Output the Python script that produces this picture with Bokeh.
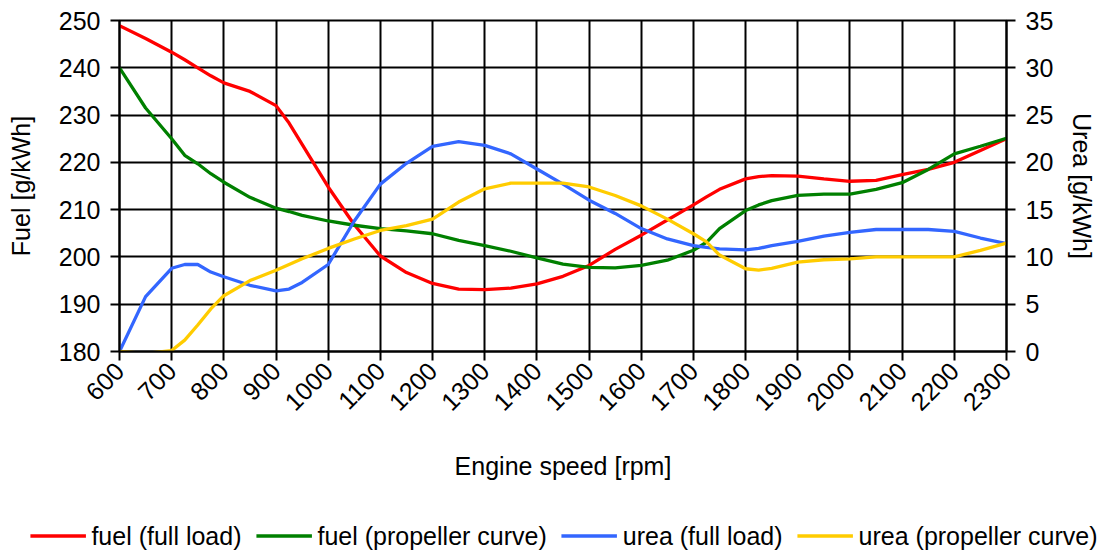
import math
from bokeh.plotting import figure
from bokeh.models import LinearAxis, Range1d, FixedTicker, Legend, LegendItem, ColumnDataSource
from bokeh.embed import file_html
from bokeh.resources import INLINE

rpm = [600, 650, 700, 725, 750, 775, 800, 850, 900, 925, 950, 1000, 1050, 1100,
       1150, 1200, 1250, 1300, 1350, 1400, 1450, 1500, 1550, 1600, 1650, 1700,
       1725, 1750, 1800, 1825, 1850, 1900, 1950, 2000, 2050, 2100, 2150, 2200,
       2250, 2300]

fuel_full_load = [248.9, 246.2, 243.3, 241.7, 240.0, 238.3, 236.8, 235.0, 232.0, 228.3,
                  223.8, 214.8, 206.8, 200.2, 196.7, 194.4, 193.2, 193.1, 193.4, 194.3,
                  195.9, 198.2, 201.6, 204.6, 207.8, 211.0, 212.7, 214.3, 216.5, 217.0,
                  217.2, 217.1, 216.5, 216.0, 216.2, 217.4, 218.5, 220.0, 222.5, 225.0]

fuel_propeller = [240.0, 231.5, 225.0, 221.5, 219.7, 217.6, 215.8, 212.6, 210.3, 209.6,
                  208.8, 207.6, 206.7, 206.0, 205.5, 204.9, 203.5, 202.4, 201.2, 199.8,
                  198.5, 197.8, 197.7, 198.2, 199.3, 201.4, 203.1, 206.0, 209.8, 211.0,
                  211.9, 213.0, 213.3, 213.3, 214.3, 215.7, 218.5, 221.8, 223.4, 225.1]

urea_full_load = [0.0, 5.8, 8.8, 9.2, 9.2, 8.4, 7.9, 7.0, 6.4, 6.6,
                  7.3, 9.2, 13.8, 17.7, 19.9, 21.7, 22.2, 21.8, 20.9, 19.3,
                  17.7, 16.0, 14.6, 13.0, 11.9, 11.2, 11.0, 10.85, 10.75, 10.9,
                  11.2, 11.65, 12.2, 12.6, 12.9, 12.9, 12.9, 12.7, 12.0, 11.4]

urea_propeller = [0.0, -0.2, 0.1, 1.2, 2.8, 4.5, 5.9, 7.5, 8.6, 9.2,
                  9.8, 10.9, 11.9, 12.8, 13.3, 14.0, 15.8, 17.2, 17.8, 17.8,
                  17.8, 17.4, 16.5, 15.4, 14.0, 12.45, 11.6, 10.2, 8.75, 8.6,
                  8.8, 9.45, 9.7, 9.8, 10.0, 10.0, 10.0, 10.0, 10.7, 11.45]

x_ticks = list(range(600, 2301, 100))
fuel_ticks = list(range(180, 251, 10))
urea_ticks = list(range(0, 36, 5))

series_labels = ["fuel (full load)", "fuel (propeller curve)",
                 "urea (full load)", "urea (propeller curve)"]
colors = ["#FF0000", "#008000", "#3366FF", "#FFCC00"]

FONT = "Liberation Sans"
FS = "25px"
LW = 3.3

src = ColumnDataSource(dict(rpm=rpm, ffl=fuel_full_load, fpc=fuel_propeller,
                            ufl=urea_full_load, upc=urea_propeller))

p = figure(width=1099, height=510, output_backend="svg", toolbar_location=None,
           x_range=Range1d(600, 2300), y_range=Range1d(180, 250),
           min_border_left=119, min_border_right=88, min_border_top=20,
           min_border_bottom=159)
p.extra_y_ranges = {"urea": Range1d(0, 35)}

p.background_fill_color = "white"
p.border_fill_color = "white"
p.outline_line_color = "black"
p.outline_line_width = 2

p.xgrid.ticker = FixedTicker(ticks=x_ticks)
p.ygrid.ticker = FixedTicker(ticks=fuel_ticks)
for g in (p.xgrid, p.ygrid):
    g.grid_line_color = "black"
    g.grid_line_width = 2

r1 = p.line("rpm", "ffl", source=src, line_color=colors[0], line_width=LW)
r2 = p.line("rpm", "fpc", source=src, line_color=colors[1], line_width=LW)
r3 = p.line("rpm", "ufl", source=src, line_color=colors[2], line_width=LW, y_range_name="urea")
r4 = p.line("rpm", "upc", source=src, line_color=colors[3], line_width=LW, y_range_name="urea")

raxis = LinearAxis(y_range_name="urea", ticker=FixedTicker(ticks=urea_ticks),
                   axis_label="Urea [g/kWh]")
p.add_layout(raxis, "right")

p.xaxis.ticker = FixedTicker(ticks=x_ticks)
p.yaxis[0].ticker = FixedTicker(ticks=fuel_ticks)
p.xaxis.axis_label = "Engine speed [rpm]"
p.yaxis[0].axis_label = "Fuel [g/kWh]"
p.xaxis.major_label_orientation = math.pi / 4

for ax in [p.xaxis[0], p.yaxis[0], raxis]:
    ax.axis_line_color = "black"
    ax.axis_line_width = 2
    ax.major_tick_line_color = "black"
    ax.major_tick_line_width = 2
    ax.major_tick_out = 9
    ax.major_tick_in = 0
    ax.minor_tick_line_color = None
    ax.major_label_text_font = FONT
    ax.major_label_text_font_size = FS
    ax.major_label_text_color = "black"
    ax.axis_label_text_font = FONT
    ax.axis_label_text_font_size = FS
    ax.axis_label_text_font_style = "normal"
    ax.axis_label_text_color = "black"

p.yaxis[0].major_label_standoff = 10
p.yaxis[0].axis_label_standoff = 21
raxis.major_label_standoff = 10
raxis.axis_label_standoff = 12
p.xaxis.major_label_standoff = 6
p.xaxis.axis_label_standoff = 30

# legend strip below the chart (separate root so its frame is not aligned to the chart)
leg = figure(width=1099, height=40, output_backend="svg", toolbar_location=None,
             x_range=Range1d(0, 1), y_range=Range1d(0, 1),
             x_axis_type=None, y_axis_type=None,
             min_border_left=29, min_border_right=1, min_border_top=11,
             min_border_bottom=0)
leg.outline_line_color = None
leg.background_fill_color = "white"
leg.border_fill_color = "white"

nan = float("nan")
dummies = [leg.line(x=[nan], y=[nan], line_color=c, line_width=LW) for c in colors]

legend = Legend(items=[LegendItem(label=lab, renderers=[d])
                       for lab, d in zip(series_labels, dummies)],
                orientation="horizontal", location="center",
                glyph_width=56, glyph_height=20, label_standoff=6, spacing=14,
                padding=0, margin=0, border_line_color=None,
                background_fill_alpha=0,
                label_text_font=FONT, label_text_font_size=FS,
                label_text_color="black")
leg.add_layout(legend, "center")

open("out.html", "w").write(file_html([p, leg], INLINE))
